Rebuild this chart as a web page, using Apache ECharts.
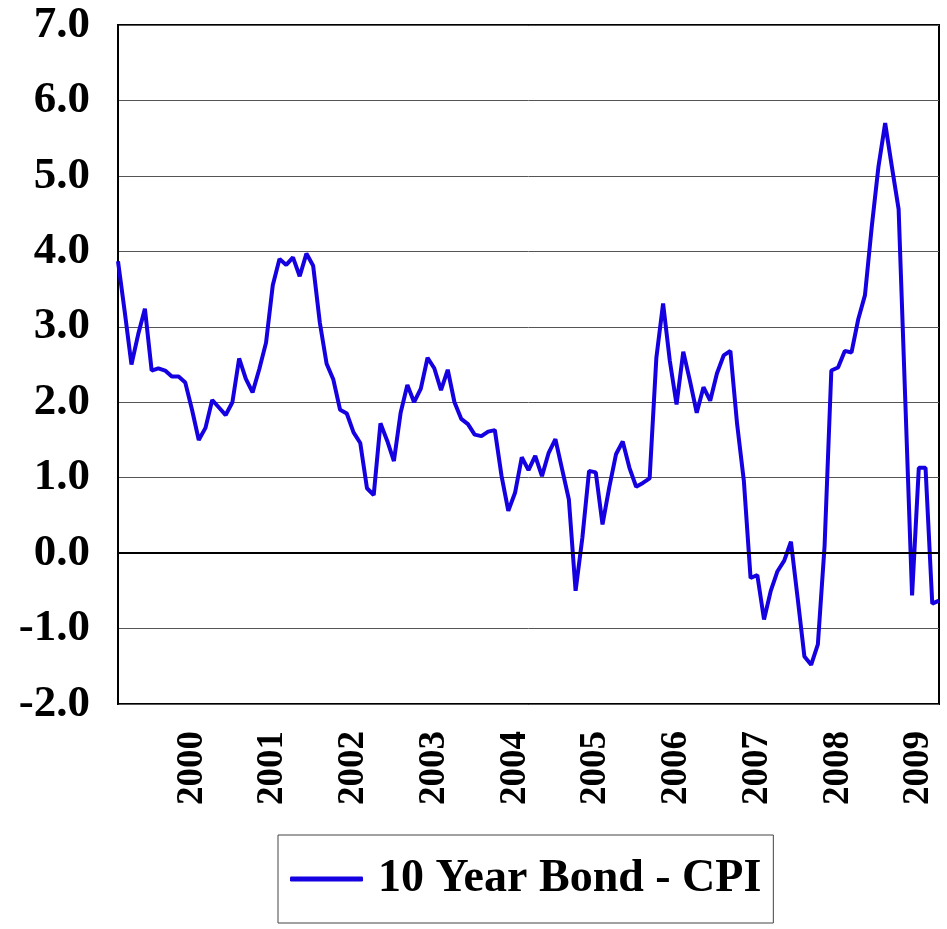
<!DOCTYPE html>
<html>
<head>
<meta charset="utf-8">
<script src="https://cdn.jsdelivr.net/npm/echarts@6/dist/echarts.min.js"></script>
<style>
  html, body { margin: 0; padding: 0; background: #fff; }
  #main { width: 947px; height: 929px; }
</style>
</head>
<body>
<div id="main"></div>
<script>
// monthly values, Feb 1999 .. Feb 2009
var spread = [
  3.87, 3.2, 2.50, 2.9, 3.24, 2.42, 2.45, 2.42, 2.34, 2.34, 2.26, 1.9,
  1.50, 1.66, 2.03, 1.93, 1.83, 2.0, 2.58, 2.31, 2.13, 2.44, 2.79, 3.55,
  3.90, 3.82, 3.92, 3.67, 3.97, 3.81, 3.05, 2.51, 2.30, 1.90, 1.85, 1.60,
  1.46, 0.86, 0.77, 1.72, 1.49, 1.22, 1.86, 2.23, 2.0, 2.18, 2.59, 2.45,
  2.16, 2.43, 2.0, 1.78, 1.71, 1.57, 1.55, 1.61, 1.63, 1.02, 0.56, 0.80,
  1.27, 1.10, 1.29, 1.02, 1.33, 1.51, 1.11, 0.71, -0.50, 0.2, 1.09, 1.07,
  0.38, 0.87, 1.31, 1.48, 1.13, 0.88, 0.93, 0.99, 2.59, 3.31, 2.55, 1.97,
  2.67, 2.28, 1.86, 2.20, 2.02, 2.38, 2.62, 2.68, 1.71, 0.96, -0.33, -0.29,
  -0.88, -0.50, -0.24, -0.10, 0.15, -0.6, -1.37, -1.48, -1.21, 0.1, 2.42, 2.46,
  2.68, 2.66, 3.10, 3.42, 4.32, 5.12, 5.70, 5.12, 4.56, 2.0, -0.56, 1.13,
  1.13, -0.67, -0.63
];
var yearLabels = ['2000', '2001', '2002', '2003', '2004', '2005', '2006', '2007', '2008', '2009'];

// month names for the category axis
var months = [];
for (var i = 0; i < spread.length; i++) {
  var m = 1 + i; // starts Feb 1999
  var y = 1999 + Math.floor(m / 12);
  months.push(y + '-' + ('0' + (m % 12 + 1)).slice(-2));
}

var font = 'Liberation Serif';
var myChart = echarts.init(document.getElementById('main'));
var option = {
  animation: false,
  grid: {
    left: 118, right: 8, top: 25, bottom: 225,
    show: true, borderColor: '#000', borderWidth: 2
  },
  legend: {
    left: 278, top: 835,
    padding: [21, 12, 21, 12],
    borderColor: '#444', borderWidth: 1,
    itemWidth: 73, itemHeight: 5, itemGap: 16,
    textStyle: {
      fontFamily: font, fontWeight: 'bold', fontSize: 46, color: '#000',
      padding: [0, 0, 0, 10]
    },
    data: [{ name: '10 Year Bond - CPI', icon: 'roundRect' }]
  },
  xAxis: {
    type: 'category',
    boundaryGap: false,
    data: months,
    axisLine: { lineStyle: { color: '#000', width: 2 } },
    axisTick: { show: false },
    axisLabel: {
      rotate: 90,
      margin: 27,
      interval: function (idx) { return idx % 12 === 11; },
      formatter: function (v, idx) { return yearLabels[(idx - 11) / 12] || ''; },
      fontFamily: font, fontWeight: 'bold', fontSize: 37, color: '#000'
    }
  },
  yAxis: {
    type: 'value',
    min: -2, max: 7, interval: 1,
    axisLine: { show: true, lineStyle: { color: '#000', width: 2 } },
    axisTick: { show: false },
    splitLine: { lineStyle: { color: '#555', width: 1 } },
    axisLabel: {
      margin: 28,
      formatter: function (v) { return v.toFixed(1); },
      fontFamily: font, fontWeight: 'bold', fontSize: 45, color: '#000'
    }
  },
  series: [{
    name: '10 Year Bond - CPI',
    type: 'line',
    data: spread,
    showSymbol: false,
    itemStyle: { color: '#1400e0' },
    lineStyle: { color: '#1400e0', width: 4 },
    markLine: {
      silent: true,
      symbol: 'none',
      label: { show: false },
      lineStyle: { color: '#000', width: 2, type: 'solid' },
      data: [{ yAxis: 0 }]
    }
  }]
};
myChart.setOption(option);
</script>
</body>
</html>
